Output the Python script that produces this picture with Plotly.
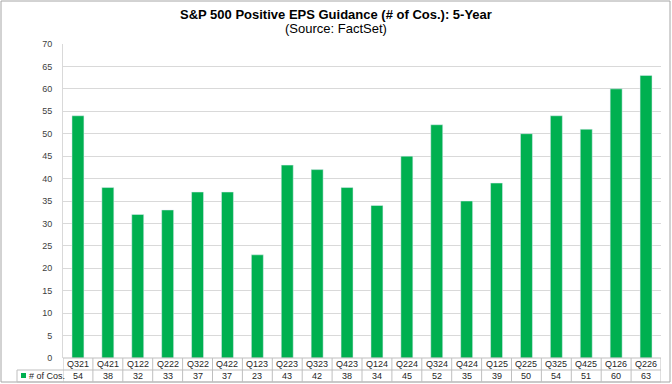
import plotly.graph_objects as go

categories = ["Q321", "Q421", "Q122", "Q222", "Q322", "Q422", "Q123", "Q223", "Q323", "Q423",
              "Q124", "Q224", "Q324", "Q424", "Q125", "Q225", "Q325", "Q425", "Q126", "Q226"]
values = [54, 38, 32, 33, 37, 37, 23, 43, 42, 38, 34, 45, 52, 35, 39, 50, 54, 51, 60, 63]
series_name = "# of Cos."
y_ticks = list(range(0, 75, 5))

W, H = 672, 384
L, R, T, B = 63, 11, 44, 26
PW, PH = W - L - R, H - T - B
GREEN = "#00B050"
GRID = "#d9d9d9"
BORDER = "#bfbfbf"
FONT = "Liberation Sans, Arial, sans-serif"


def px(p):
    return (p - L) / PW


def py(p):
    return (H - B - p) / PH


fig = go.Figure()
fig.add_trace(go.Bar(x=categories, y=values, marker_color=GREEN, name=series_name,
                     showlegend=False, hoverinfo="x+y"))

shapes = []
annotations = []
row1_top, row1_bot, row2_bot = H - B, H - B + 12, H - B + 24
# table horizontal lines
for yy, x0 in [(row1_top, px(L)), (row1_bot, px(17)), (row2_bot, px(17))]:
    shapes.append(dict(type="line", xref="paper", yref="paper", x0=x0, x1=1,
                       y0=py(yy), y1=py(yy), line=dict(color=BORDER, width=1)))
# vertical cell lines
for i in range(len(categories) + 1):
    shapes.append(dict(type="line", xref="x", yref="paper", x0=i - 0.5, x1=i - 0.5,
                       y0=py(row1_top), y1=py(row2_bot), line=dict(color=BORDER, width=1)))
shapes.append(dict(type="line", xref="paper", yref="paper", x0=px(17), x1=px(17),
                   y0=py(row1_bot), y1=py(row2_bot), line=dict(color=BORDER, width=1)))
# legend key
shapes.append(dict(type="rect", xref="paper", yref="paper", x0=px(21), x1=px(26),
                   y0=py(378), y1=py(373), fillcolor=GREEN, line=dict(width=0)))
# outer border
shapes.append(dict(type="rect", xref="paper", yref="paper", x0=px(1), x1=px(670),
                   y0=py(382), y1=py(1), line=dict(color="#a6a6a6", width=1),
                   fillcolor="rgba(0,0,0,0)", layer="below"))

for c, v in zip(categories, values):
    annotations.append(dict(x=c, xref="x", y=py((row1_top + row1_bot) / 2), yref="paper",
                            text=c, showarrow=False, yanchor="middle",
                            font=dict(size=9, color="#262626", family=FONT)))
    annotations.append(dict(x=c, xref="x", y=py((row1_bot + row2_bot) / 2), yref="paper",
                            text=str(v), showarrow=False, yanchor="middle",
                            font=dict(size=9, color="#262626", family=FONT)))
annotations.append(dict(x=px(27), xref="paper", y=py((row1_bot + row2_bot) / 2), yref="paper",
                        text=series_name, showarrow=False, xanchor="left", yanchor="middle",
                        font=dict(size=9, color="#262626", family=FONT)))
annotations.append(dict(x=0.5 * W / PW - L / PW, xref="paper", y=py(14), yref="paper",
                        text="<b>S&P 500 Positive EPS Guidance (# of Cos.): 5-Year</b>",
                        showarrow=False, yanchor="middle",
                        font=dict(size=13, color="#000000", family=FONT)))
annotations.append(dict(x=0.5 * W / PW - L / PW, xref="paper", y=py(29), yref="paper",
                        text="(Source: FactSet)", showarrow=False, yanchor="middle",
                        font=dict(size=13, color="#000000", family=FONT)))

fig.update_layout(
    width=W, height=H,
    margin=dict(l=L, r=R, t=T, b=B, pad=0),
    paper_bgcolor="white", plot_bgcolor="white",
    bargap=0.6,
    shapes=shapes, annotations=annotations,
    xaxis=dict(type="category", range=[-0.5, len(categories) - 0.5], showticklabels=False,
               showgrid=False, zeroline=False, showline=False, ticks=""),
    yaxis=dict(range=[0, 70], tickvals=y_ticks, showgrid=True, gridcolor=GRID, gridwidth=1,
               zeroline=False, showline=True, linecolor=GRID, linewidth=1, ticks="",
               ticklabelstandoff=8,
               tickfont=dict(size=9, color="#404040", family=FONT)),
    font=dict(family=FONT),
)

fig.write_html("out.html")
